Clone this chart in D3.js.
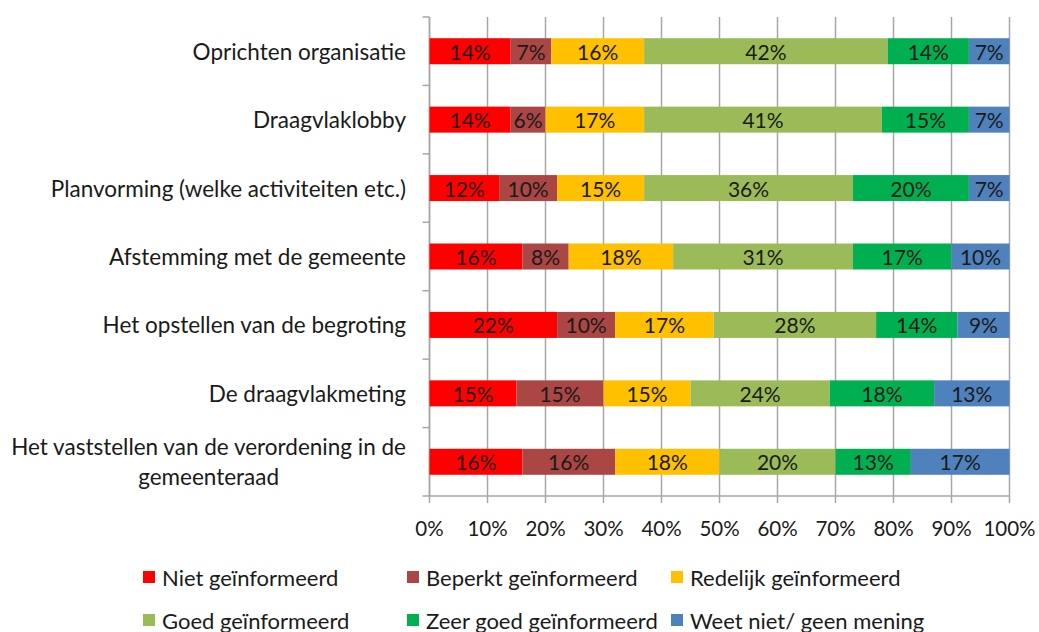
<!DOCTYPE html>
<html><head><meta charset="utf-8">
<script src="https://cdn.jsdelivr.net/npm/d3@7"></script>
<style>
html,body{margin:0;padding:0;background:#fff;}
svg{display:block;}
text{font-family:Lato,"Open Sans",sans-serif;fill:#1a1a1a;}
</style></head>
<body>
<svg id="chart" width="1039" height="632"></svg>
<script>
const categories = [
  "Oprichten organisatie",
  "Draagvlaklobby",
  "Planvorming (welke activiteiten etc.)",
  "Afstemming met de gemeente",
  "Het opstellen van de begroting",
  "De draagvlakmeting",
  "Het vaststellen van de verordening in de gemeenteraad"
];
const seriesNames = ["Niet geïnformeerd","Beperkt geïnformeerd","Redelijk geïnformeerd","Goed geïnformeerd","Zeer goed geïnformeerd","Weet niet/ geen mening"];
const niet      = [14,14,12,16,22,15,16];
const beperkt   = [7,6,10,8,10,15,16];
const redelijk  = [16,17,15,18,17,15,18];
const goed      = [42,41,36,31,28,24,20];
const zeerGoed  = [14,15,20,17,14,18,13];
const weetNiet  = [7,7,7,10,9,13,17];
const colors = ["#ff0000","#aa4644","#ffc000","#9bbb59","#00b050","#4f81bd"];
const xTicks = [0,10,20,30,40,50,60,70,80,90,100];

(function(){
const seriesValues = [niet,beperkt,redelijk,goed,zeerGoed,weetNiet];
const rows = categories.map((c,i)=>{
  const r = {cat:c};
  seriesNames.forEach((s,j)=>r[s]=seriesValues[j][i]);
  return r;
});

const svg = d3.select("#chart");
const pL = 429.5, pR = 1009.5, pT = 17, pB = 496;
const x = d3.scaleLinear().domain([0,100]).range([pL,pR]);
const y = d3.scaleBand().domain(categories).range([pT,pB]).paddingInner(0.62).paddingOuter(0.31);
const band = d3.scaleBand().domain(categories).range([pT,pB]);

const FS_CAT = 22.5, FS_DATA = 21, FS_TICK = 20.5, FS_LEG = 22;

svg.append("g").selectAll("line").data(xTicks).join("line")
  .attr("x1",d=>x(d)).attr("x2",d=>x(d)).attr("y1",pT).attr("y2",pB+7)
  .attr("stroke","#a6a6a6").attr("stroke-width",1.5);
svg.append("line").attr("x1",pL).attr("x2",pL).attr("y1",pT).attr("y2",pB)
  .attr("stroke","#a6a6a6").attr("stroke-width",1.5);
svg.append("line").attr("x1",pL).attr("x2",pR).attr("y1",pB).attr("y2",pB)
  .attr("stroke","#a6a6a6").attr("stroke-width",1.5);
const catEdges = categories.map(c=>band(c)).concat([pB]);
svg.append("g").selectAll("line").data(catEdges).join("line")
  .attr("x1",pL-7).attr("x2",pL).attr("y1",d=>d).attr("y2",d=>d)
  .attr("stroke","#a6a6a6").attr("stroke-width",1.5);

const stack = d3.stack().keys(seriesNames)(rows);
const g = svg.append("g");
stack.forEach((layer,j)=>{
  const lg = g.append("g");
  lg.selectAll("rect").data(layer).join("rect")
    .attr("x",d=>x(d[0])).attr("width",d=>x(d[1])-x(d[0]))
    .attr("y",d=>y(d.data.cat)).attr("height",y.bandwidth())
    .attr("fill",colors[j]);
  lg.selectAll("text").data(layer).join("text")
    .attr("x",d=>(x(d[0])+x(d[1]))/2).attr("y",d=>y(d.data.cat)+y.bandwidth()/2)
    .attr("text-anchor","middle").attr("dominant-baseline","central")
    .style("font-size",FS_DATA+"px")
    .text(d=>(d[1]-d[0])+"%");
});

svg.append("g").selectAll("text").data(xTicks).join("text")
  .attr("x",d=>x(d)).attr("y",528).attr("text-anchor","middle").attr("dominant-baseline","central")
  .style("font-size",FS_TICK+"px").text(d=>d+"%");

const maxW = 400;
categories.forEach(c=>{
  const t = svg.append("text").style("font-size",FS_CAT+"px").attr("text-anchor","end");
  const words = c.split(" ");
  const lines = [];
  let cur = "";
  const meas = svg.append("text").style("font-size",FS_CAT+"px");
  words.forEach(w=>{
    const test = cur ? cur+" "+w : w;
    meas.text(test);
    if (meas.node().getComputedTextLength() > maxW && cur){ lines.push(cur); cur = w; }
    else cur = test;
  });
  lines.push(cur);
  meas.remove();
  const cy = band(c)+band.bandwidth()/2;
  const lh = 30;
  if (lines.length===1){
    t.attr("x",406).attr("y",cy).attr("dominant-baseline","central").text(lines[0]);
  } else {
    const m = svg.append("text").style("font-size",FS_CAT+"px");
    const widths = lines.map(l=>{m.text(l);return m.node().getComputedTextLength();});
    m.remove();
    const wmax = Math.max(...widths);
    const cx = 406 - wmax/2;
    t.attr("text-anchor","middle");
    lines.forEach((l,i)=>{
      t.append("tspan").attr("x",cx).attr("y",cy+(i-(lines.length-1)/2)*lh)
        .attr("dominant-baseline","central").text(l);
    });
  }
});

const legX = [162,426,690];
const legY = [577,620];
const lg = svg.append("g");
seriesNames.forEach((s,i)=>{
  const col = i%3, row = Math.floor(i/3);
  const tx = legX[col], ty = legY[row];
  lg.append("rect").attr("x",tx-19).attr("y",ty-6).attr("width",12).attr("height",12).attr("fill",colors[i]);
  lg.append("text").attr("x",tx).attr("y",ty).attr("dominant-baseline","central")
    .style("font-size",FS_LEG+"px").text(s);
});
})();
</script>
</body></html>
